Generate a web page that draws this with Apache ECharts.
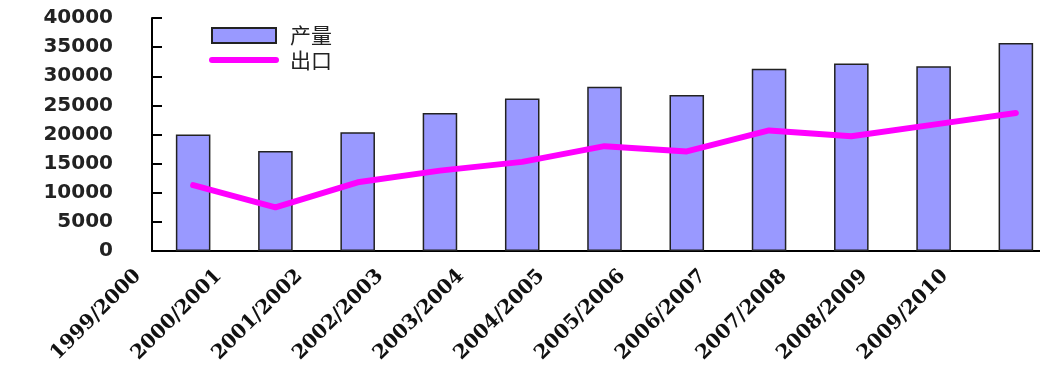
<!DOCTYPE html>
<html>
<head>
<meta charset="utf-8">
<script src="https://cdn.jsdelivr.net/npm/echarts@6/dist/echarts.min.js"></script>
<style>
  html, body { margin: 0; padding: 0; background: #fff; }
  #chart { width: 1040px; height: 365px; }
</style>
</head>
<body>
<div id="chart"></div>
<script>
// 年度
const seasons = ["1999/2000", "2000/2001", "2001/2002", "2002/2003", "2003/2004", "2004/2005",
  "2005/2006", "2006/2007", "2007/2008", "2008/2009", "2009/2010"];
// 产量
const output = [20000, 17150, 20400, 23700, 26200, 28200, 26800, 31300, 32200, 31700, 35700];
// 出口
const exportVol = [11300, 7500, 11800, 13800, 15300, 18000, 17100, 20700, 19700, 21700, 23700];
const yTicks = [0, 5000, 10000, 15000, 20000, 25000, 30000, 35000, 40000];

let myChart = echarts.init(document.getElementById("chart"));
let option = {
  animation: false,
  legend: {
    orient: "vertical",
    left: 209,
    top: 25,
    padding: 0,
    itemWidth: 64,
    itemHeight: 15,
    itemGap: 3.5,
    textStyle: {
      fontSize: 21,
      color: "#222",
      fontFamily: "Noto Sans CJK SC",
      padding: [0, 0, 0, 9]
    },
    data: [
      { name: "产量", icon: "rect" },
      {
        name: "出口",
        itemStyle: { opacity: 0 },
        lineStyle: { width: 6, cap: "round", color: "#FF00FF" }
      }
    ]
  },
  grid: [
    // 原图右侧被裁切，绘图区超出画布
    { left: 152, width: 905, top: 18, bottom: 114, outerBoundsMode: "none", containLabel: false },
    { left: 138, right: 95, top: 18, bottom: 114, outerBoundsMode: "none", containLabel: false }
  ],
  xAxis: [
    {
      type: "category",
      gridIndex: 0,
      data: seasons,
      axisLine: { lineStyle: { color: "#000", width: 2 } },
      axisTick: { inside: true, length: 8, lineStyle: { color: "#000", width: 2 } },
      axisLabel: { show: false }
    },
    {
      // 标签错位显示，与原图一致
      type: "category",
      gridIndex: 1,
      boundaryGap: false,
      data: seasons,
      axisLine: { show: false },
      axisTick: { show: false },
      axisLabel: {
        rotate: 45,
        margin: 22,
        interval: 0,
        fontSize: 20,
        fontWeight: "bold",
        fontFamily: "DejaVu Serif",
        color: "#111"
      }
    }
  ],
  yAxis: [
    {
      type: "value",
      gridIndex: 0,
      min: yTicks[0],
      max: yTicks[yTicks.length - 1],
      interval: 5000,
      splitLine: { show: false },
      axisLine: { show: true, lineStyle: { color: "#000", width: 2 } },
      axisTick: { show: true, inside: true, length: 10, lineStyle: { color: "#000", width: 2 } },
      axisLabel: {
        margin: 39,
        fontSize: 20,
        fontWeight: "bold",
        fontFamily: "DejaVu Sans",
        color: "#222",
        padding: [6, 0, 0, 0],
        formatter: function(v) { return String(v); }
      }
    },
    { type: "value", gridIndex: 1, show: false }
  ],
  series: [
    {
      name: "产量",
      type: "bar",
      data: output,
      barWidth: "42%",
      itemStyle: { color: "#9999FF", borderColor: "#222", borderWidth: 1.5 }
    },
    {
      name: "出口",
      type: "line",
      data: exportVol,
      symbol: "none",
      lineStyle: { color: "#FF00FF", width: 6, cap: "round", join: "round" },
      itemStyle: { color: "#FF00FF" }
    }
  ]
};
myChart.setOption(option);
window.addEventListener("resize", function() {
  myChart.resize();
});
</script>
</body>
</html>
